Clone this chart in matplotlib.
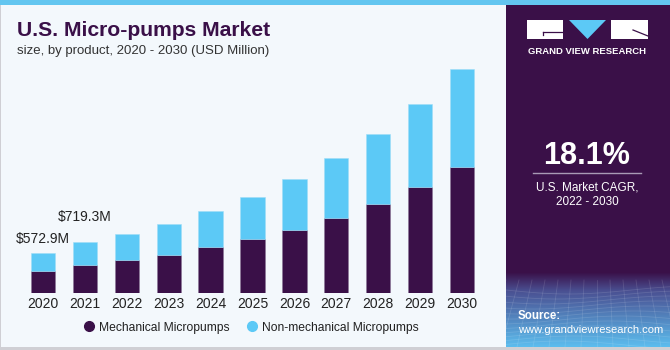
import matplotlib
matplotlib.use("Agg")
import matplotlib.pyplot as plt
import numpy as np
from matplotlib.patches import Rectangle, Polygon
from matplotlib.lines import Line2D

years = ["2020", "2021", "2022", "2023", "2024", "2025", "2026", "2027", "2028", "2029", "2030"]
mechanical = [316, 392, 464, 542, 646, 763, 894, 1062, 1259, 1494, 1779]
non_mechanical = [257, 327, 373, 432, 506, 594, 712, 835, 979, 1166, 1368]
labels = {0: "$572.9M", 1: "$719.3M"}

BG = "#F3F8FC"
PURPLE = "#3A1048"
BLUE = "#5CC9F6"
W, H = 670, 350

fig = plt.figure(figsize=(6.7, 3.5), dpi=100, facecolor=BG)
plt.rcParams['font.family'] = ['Liberation Sans', 'DejaVu Sans']

def fx(px):
    return px / W
def fy(py):
    return 1 - py / H

# decoration axes covering whole figure in pixel coords
deco = fig.add_axes([0, 0, 1, 1], zorder=0)
deco.set_xlim(0, W)
deco.set_ylim(H, 0)
deco.axis("off")
deco.add_patch(Rectangle((0, 0), W, 5, color="#63C6F0", lw=0))
deco.add_patch(Rectangle((506, 5), W - 506, 342, color=PURPLE, lw=0))
# gradient for source area
grad = np.linspace(0, 1, 100)
c0 = np.array([0x3A, 0x10, 0x48]) / 255
c1 = np.array([0x4A, 0x50, 0x92]) / 255
c2 = np.array([0x5C, 0xBD, 0xEE]) / 255
img = np.zeros((100, 1, 3))
for i, g in enumerate(grad):
    if g < 0.25:
        t = g / 0.25
        img[i, 0] = c0 * (1 - t) + c1 * t
    else:
        t = (g - 0.25) / 0.75
        img[i, 0] = c1 * (1 - t) + c2 * t
deco.imshow(img, extent=(506, W, 347, 272), aspect="auto", zorder=1, interpolation="bilinear")
# faint mesh lines
for k in range(12):
    xs = np.linspace(506, W, 50)
    ys = 290 + k * 5 + 4 * np.sin((xs - 506) / 40 + k * 0.3)
    deco.plot(xs, ys, color="white", alpha=0.12, lw=0.6, zorder=2)
for k in range(14):
    x0 = 506 + k * 13
    deco.plot([x0, x0 + (k - 7) * 3], [280, 347], color="white", alpha=0.12, lw=0.6, zorder=2)
deco.set_xlim(0, W)
deco.set_ylim(H, 0)
# borders
deco.add_patch(Rectangle((0, 347), W, 3, color="#CFCFD4", lw=0, zorder=3))
deco.add_patch(Rectangle((0, 5), 1.2, 342, color="#CFCFD4", lw=0, zorder=3))

# logo
deco.add_patch(Rectangle((527, 20), 36, 19, color="white", lw=0, zorder=3))
deco.add_patch(Polygon([(569, 20), (606, 20), (587.5, 39)], closed=True, color=BLUE, lw=0, zorder=3))
deco.add_patch(Rectangle((611, 20), 37, 19, color="white", lw=0, zorder=3))
deco.plot([543, 563], [32, 32], color=PURPLE, lw=0.9, zorder=4)
deco.plot([543, 543], [32, 35], color=PURPLE, lw=0.9, zorder=4)
deco.plot([633, 648], [30, 36], color=PURPLE, lw=0.9, zorder=4)
deco.text(587.5, 51, "GRAND VIEW RESEARCH", color="white", fontsize=6.8, fontweight="bold",
          ha="center", va="center", zorder=4)

deco.text(587, 156, "18.1%", color="white", fontsize=22, fontweight="bold", ha="center", va="center", zorder=4)
deco.plot([533, 641], [173.3, 173.3], color="#A89AB5", lw=1, zorder=4)
deco.text(587, 187, "U.S. Market CAGR,", color="white", fontsize=8.5, ha="center", va="center", zorder=4)
deco.text(587, 202, "2022 - 2030", color="white", fontsize=8.5, ha="center", va="center", zorder=4)
deco.text(518, 316, "Source:", color="white", fontsize=8.3, fontweight="bold", ha="left", va="center", zorder=4)
deco.text(518, 330, "www.grandviewresearch.com", color="white", fontsize=8.0, ha="left", va="center", zorder=4)

deco.text(17, 36, "U.S. Micro-pumps Market", color=PURPLE, fontsize=15.2, fontweight="bold",
          ha="left", va="baseline", zorder=4)
deco.text(17, 54, "size, by product, 2020 - 2030 (USD Million)", color="#333333", fontsize=9.5,
          ha="left", va="baseline", zorder=4)

# main chart axes
left_px, right_px = 22, 483
base_px, ymax = 293.3, 3300
scale = 14.05
top_px = base_px - ymax / scale
ax = fig.add_axes([fx(left_px), fy(base_px), fx(right_px - left_px), (base_px - top_px) / H], zorder=2)
ax.set_facecolor("none")
x = np.arange(len(years))
ax.bar(x, mechanical, width=0.58, color=PURPLE, edgecolor="#8A7598", linewidth=0.4)
ax.bar(x, non_mechanical, bottom=mechanical, width=0.58, color=BLUE, edgecolor="#9FDDF7", linewidth=0.4)
ax.set_xlim(-0.5, len(years) - 0.5)
ax.set_ylim(0, ymax)
ax.set_xticks(x)
ax.set_xticklabels(years, fontsize=10, color="#222222")
ax.tick_params(axis="x", length=0, pad=3)
ax.set_yticks([])
for s in ax.spines.values():
    s.set_visible(False)

offsets = {0: 9.5, 1: 18}
for i, txt in labels.items():
    total = mechanical[i] + non_mechanical[i]
    ax.annotate(txt, (x[i], total), xytext=(0, offsets[i]), textcoords="offset points",
                ha="center", va="center", fontsize=10, color="#222222")

handles = [Line2D([], [], marker="o", linestyle="none", markersize=7, color=PURPLE),
           Line2D([], [], marker="o", linestyle="none", markersize=7, color=BLUE)]
fig.legend(handles, ["Mechanical Micropumps", "Non-mechanical Micropumps"], loc="center",
           bbox_to_anchor=(fx(251), fy(327.7)), ncol=2, frameon=False, fontsize=8.7,
           handletextpad=0.3, columnspacing=1.4, handlelength=1.0, labelcolor="#222222")

fig.savefig("out.png", dpi=100, facecolor=BG)
